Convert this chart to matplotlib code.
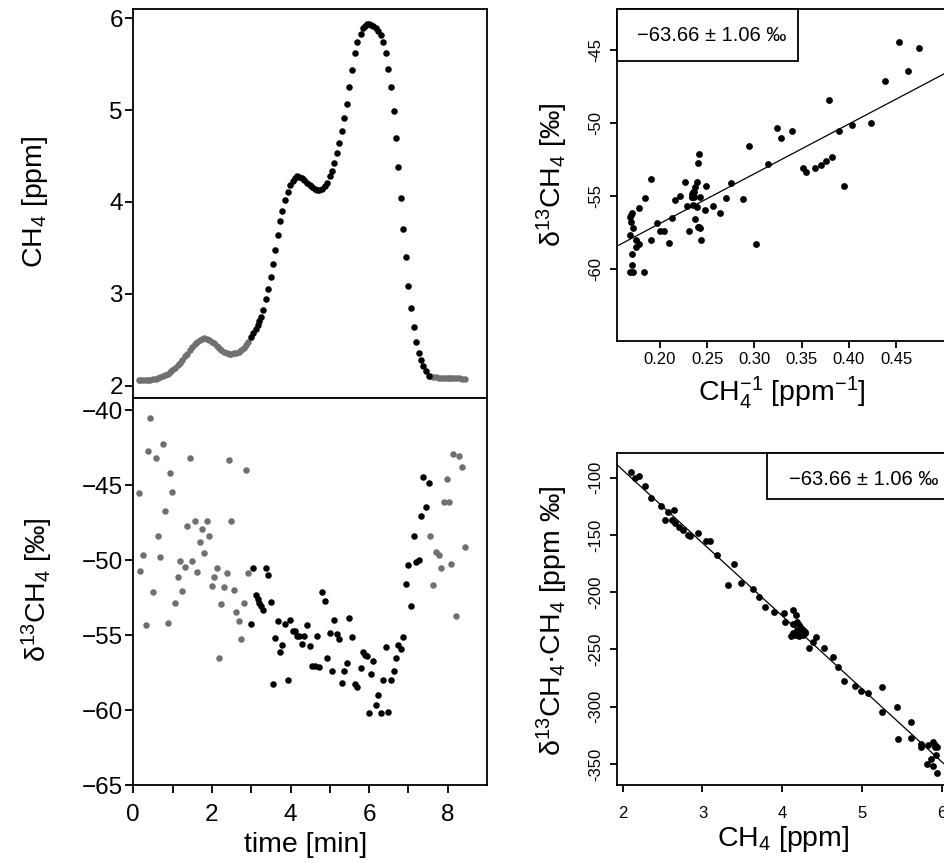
import numpy as np
import matplotlib
matplotlib.use("Agg")
import matplotlib.pyplot as plt
from matplotlib.patches import Rectangle

plt.rcParams['font.family'] = ['Liberation Sans', 'DejaVu Sans']
plt.rcParams['mathtext.fontset'] = 'custom'
plt.rcParams['mathtext.rm'] = 'Liberation Sans'
plt.rcParams['mathtext.it'] = 'Liberation Sans:italic'
plt.rcParams['mathtext.default'] = 'regular'

# ---------------- data ----------------
# measurement times [min]
time_min = [
    0.14, 0.18, 0.25, 0.32, 0.38, 0.43, 0.50, 0.57, 0.63, 0.69, 0.75, 0.81, 0.88, 0.93, 0.99, 1.06,
    1.13, 1.19, 1.25, 1.32, 1.37, 1.44, 1.50, 1.56, 1.63, 1.70, 1.75, 1.81, 1.88, 1.93, 2.00, 2.06,
    2.13, 2.18, 2.24, 2.31, 2.38, 2.44, 2.49, 2.56, 2.61, 2.68, 2.74, 2.81, 2.87, 2.93,
    2.99, 3.05, 3.11, 3.16, 3.20, 3.24, 3.29, 3.37, 3.43, 3.50, 3.55, 3.61, 3.68, 3.74, 3.79, 3.86,
    3.93, 3.99, 4.05, 4.11, 4.16, 4.22, 4.29, 4.35, 4.42, 4.49, 4.55, 4.61, 4.67, 4.73, 4.80, 4.87,
    4.93, 5.00, 5.06, 5.11, 5.17, 5.24, 5.30, 5.36, 5.43, 5.49, 5.56, 5.63, 5.70, 5.78, 5.84, 5.90,
    5.95, 5.99, 6.05, 6.10, 6.17, 6.23, 6.29, 6.36, 6.42, 6.49, 6.55, 6.62, 6.68, 6.74, 6.80, 6.86,
    6.93, 7.00, 7.07, 7.13, 7.20, 7.26, 7.31, 7.38, 7.45, 7.52,
    7.56, 7.63, 7.71, 7.78, 7.84, 7.90, 7.97, 8.03, 8.09, 8.14, 8.21, 8.29, 8.36, 8.44,
]
# CH4 mixing ratio [ppm]
ch4_ppm = [
    2.06, 2.06, 2.06, 2.062, 2.065, 2.067, 2.07, 2.075, 2.08, 2.09, 2.10, 2.115, 2.13, 2.15, 2.17, 2.195,
    2.22, 2.25, 2.28, 2.32, 2.35, 2.39, 2.42, 2.45, 2.48, 2.50, 2.51, 2.515, 2.51, 2.50, 2.48, 2.46,
    2.43, 2.41, 2.385, 2.365, 2.355, 2.35, 2.35, 2.355, 2.36, 2.37, 2.39, 2.41, 2.44, 2.48,
    2.53, 2.57, 2.62, 2.66, 2.70, 2.75, 2.82, 2.94, 3.05, 3.18, 3.32, 3.48, 3.64, 3.79, 3.90, 4.02,
    4.11, 4.18, 4.23, 4.26, 4.28, 4.27, 4.26, 4.24, 4.21, 4.18, 4.16, 4.14, 4.13, 4.13, 4.14, 4.17,
    4.21, 4.28, 4.34, 4.42, 4.53, 4.64, 4.77, 4.91, 5.07, 5.25, 5.44, 5.62, 5.74, 5.83, 5.89, 5.92,
    5.94, 5.94, 5.93, 5.91, 5.89, 5.86, 5.82, 5.74, 5.62, 5.45, 5.25, 4.99, 4.70, 4.38, 4.04, 3.71,
    3.40, 3.09, 2.85, 2.64, 2.48, 2.36, 2.28, 2.21, 2.16, 2.11,
    2.10, 2.095, 2.09, 2.088, 2.085, 2.083, 2.082, 2.08, 2.08, 2.08, 2.078, 2.078, 2.077, 2.077,
]
# delta13C-CH4 [permil]
d13c_permil = [
    -45.56, -50.73, -49.68, -54.34, -42.73, -40.55, -52.13, -43.22, -48.41, -49.77, -42.26, -46.70,
    -54.20, -44.18, -45.45, -52.87, -51.15, -50.06, -52.09, -50.48, -47.70, -43.20, -50.08, -47.37,
    -50.82, -48.79, -47.90, -49.52, -47.41, -48.37, -51.75, -51.15, -50.55, -56.52, -52.95, -51.78,
    -50.89, -43.33, -47.41, -52.00, -53.47, -54.09, -55.25, -52.85, -44.02, -50.89,
    -54.29, -50.51, -52.33, -52.60, -52.87, -53.09, -53.36, -50.51, -51.02, -52.78, -58.24, -55.19,
    -54.07, -56.16, -55.65, -54.27, -57.97, -54.00, -54.74, -54.74, -55.07, -55.07, -55.63, -55.07,
    -54.34, -55.72, -57.08, -57.08, -55.07, -57.14, -52.13, -52.75, -56.56, -54.85, -57.37, -54.00,
    -54.96, -55.29, -58.19, -57.37, -56.85, -53.85, -55.12, -58.24, -58.46, -57.19, -56.12, -56.30,
    -56.39, -60.20, -57.63, -56.74, -59.68, -58.97, -60.20, -57.97, -55.81, -60.15, -57.97, -57.41,
    -56.52, -55.67, -55.92, -55.14, -51.57, -50.35, -53.07, -48.43, -50.13, -50.01, -47.09, -44.49,
    -46.45, -44.87,
    -48.41, -51.68, -49.46, -49.66, -50.51, -46.12, -44.60, -46.16, -50.28, -42.90, -53.76, -43.05,
    -43.82, -49.10,
]
# time window of the peak used for the source-signature fit
peak_window = (2.96, 7.54)
# fit result
source_signature = -63.66
source_uncertainty = 1.06
keeling_slope = 34.0

left_yticks_top = [2, 3, 4, 5, 6]
left_yticks_bot = [-65, -60, -55, -50, -45, -40]
left_xticks = [0, 2, 4, 6, 8]
keel_xticks = [0.20, 0.25, 0.30, 0.35, 0.40, 0.45]
keel_yticks = [-60, -55, -50, -45]
mt_xticks = [2, 3, 4, 5, 6]
mt_yticks = [-350, -300, -250, -200, -150, -100]

# ---------------- figure ----------------
t = np.array(time_min)
c = np.array(ch4_ppm)
d = np.array(d13c_permil)
sel = (t >= peak_window[0]) & (t <= peak_window[1])

W, H = 944, 863
fig = plt.figure(figsize=(W / 100, H / 100), dpi=100)
fig.patch.set_facecolor('white')


def ax_px(left, top, right, bottom):
    return fig.add_axes([left / W, 1 - bottom / H, (right - left) / W, (bottom - top) / H])


GRAY = '#707070'
BLACK = '#000000'
SPW = 1.3
S_LEFT = 22
S_RIGHT = 24
TICK_L = 17.5
TICK_R = 12

ax1 = ax_px(133.3, 9.0, 486.7, 397.7)
ax2 = ax_px(133.3, 397.7, 486.7, 785.0)
ax3 = ax_px(616.7, 9.3, 949.7, 340.7)
ax4 = ax_px(616.7, 452.7, 949.7, 785.0)

for ax in (ax1, ax2, ax3, ax4):
    for s in ax.spines.values():
        s.set_linewidth(SPW)
        s.set_color('black')

# top-left: CH4 time series
ax1.scatter(t[~sel], c[~sel], s=S_LEFT, color=GRAY, linewidths=0, zorder=2)
ax1.scatter(t[sel], c[sel], s=S_LEFT, color=BLACK, linewidths=0, zorder=3)
ax1.set_xlim(0, 8.99)
ax1.set_ylim(1.869, 6.10)
ax1.set_yticks(left_yticks_top)
ax1.set_yticklabels([str(v) for v in left_yticks_top])
ax1.set_xticks(range(0, 9))
ax1.set_xticklabels([])
ax1.tick_params(axis='both', direction='out', length=6, width=SPW, labelsize=TICK_L, pad=1.5)

# bottom-left: delta time series
ax2.scatter(t[~sel], d[~sel], s=S_LEFT, color=GRAY, linewidths=0, zorder=2)
ax2.scatter(t[sel], d[sel], s=S_LEFT, color=BLACK, linewidths=0, zorder=3)
ax2.set_xlim(0, 8.99)
ax2.set_ylim(-65, -39.18)
ax2.set_yticks(left_yticks_bot)
ax2.set_yticklabels([('\u2212' + str(abs(v))) for v in left_yticks_bot])
ax2.set_xticks(left_xticks)
ax2.set_xticklabels([str(v) for v in left_xticks])
ax2.set_xticks([1, 3, 5, 7], minor=True)
ax2.tick_params(axis='y', direction='out', length=6, width=SPW, labelsize=TICK_L, pad=1.5)
ax2.tick_params(axis='x', which='both', direction='out', length=6, width=SPW, labelsize=TICK_L, pad=8)

# top-right: Keeling plot
ax3.scatter(1.0 / c[sel], d[sel], s=S_RIGHT, color=BLACK, linewidths=0, zorder=3)
ax3.axline((0.0, source_signature), slope=keeling_slope, color='black', lw=0.9, zorder=2)
ax3.set_xlim(0.1541, 0.5067)
ax3.set_ylim(-64.88, -42.22)
ax3.set_xticks(keel_xticks)
ax3.set_xticklabels(['%.2f' % v for v in keel_xticks])
ax3.set_yticks(keel_yticks)
ax3.set_yticklabels(['-%d' % abs(v) for v in keel_yticks])
ax3.tick_params(axis='both', direction='out', length=5, width=SPW, labelsize=TICK_R)
ax3.tick_params(axis='x', pad=3)
ax3.tick_params(axis='y', pad=5)
for lab in ax3.get_yticklabels():
    lab.set_rotation(90)
    lab.set_va('center')

# bottom-right: Miller-Tans plot
ax4.scatter(c[sel], d[sel] * c[sel], s=S_RIGHT, color=BLACK, linewidths=0, zorder=3)
ax4.axline((0.0, keeling_slope), slope=source_signature, color='black', lw=0.9, zorder=2)
ax4.set_xlim(1.925, 6.10)
ax4.set_ylim(-368.3, -78.2)
ax4.set_xticks(mt_xticks)
ax4.set_xticklabels([str(v) for v in mt_xticks])
ax4.set_yticks(mt_yticks)
ax4.set_yticklabels(['-%d' % abs(v) for v in mt_yticks])
ax4.tick_params(axis='both', direction='out', length=5, width=SPW, labelsize=TICK_R)
ax4.tick_params(axis='x', pad=10)
ax4.tick_params(axis='y', pad=5)
for lab in ax4.get_yticklabels():
    lab.set_rotation(90)
    lab.set_va('center')

# result boxes
label_txt = '\u2212%.2f \u00b1 %.2f \u2030' % (abs(source_signature), source_uncertainty)
ax3.add_patch(Rectangle((0, 0.843), 0.545, 0.157, transform=ax3.transAxes, facecolor='white',
                        edgecolor='black', linewidth=SPW, zorder=5, clip_on=False))
ax3.text(0.286, 0.921, label_txt, transform=ax3.transAxes, ha='center', va='center',
         fontsize=14.5, zorder=6)
ax4.add_patch(Rectangle((0.452, 0.860), 0.548, 0.140, transform=ax4.transAxes, facecolor='white',
                        edgecolor='black', linewidth=SPW, zorder=5, clip_on=False))
ax4.text(0.743, 0.920, label_txt, transform=ax4.transAxes, ha='center', va='center',
         fontsize=14.5, zorder=6)

# axis labels (placed in pixel positions)
def ftxt(x, y, s, **kw):
    fig.text(x / W, 1 - y / H, s, **kw)

LBL = 20.5
ftxt(35, 202, 'CH$_4$ [ppm]', rotation=90, ha='center', va='center', fontsize=LBL)
ftxt(37, 590, '\u03b4$^{13}$CH$_4$ [\u2030]', rotation=90, ha='center', va='center', fontsize=LBL)
ftxt(306, 852, 'time [min]', ha='center', va='baseline', fontsize=LBL)
ftxt(552, 175, '\u03b4$^{13}$CH$_4$ [\u2030]', rotation=90, ha='center', va='center', fontsize=LBL)
ftxt(782, 401, 'CH$_4^{-1}$ [ppm$^{-1}$]', ha='center', va='baseline', fontsize=LBL)
ftxt(552, 621, '\u03b4$^{13}$CH$_4$\u00b7CH$_4$ [ppm \u2030]', rotation=90, ha='center', va='center',
     fontsize=LBL)
ftxt(783, 846, 'CH$_4$ [ppm]', ha='center', va='baseline', fontsize=LBL)

fig.savefig('out.png', dpi=100, facecolor='white')
